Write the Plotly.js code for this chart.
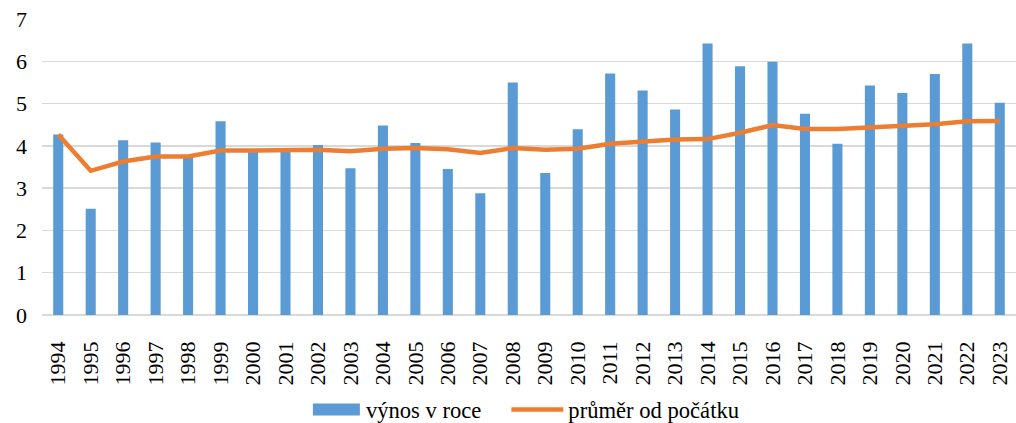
<!DOCTYPE html>
<html>
<head>
<meta charset="utf-8">
<script src="https://cdn.plot.ly/plotly-3.0.1.min.js"></script>
<style>html,body{margin:0;padding:0;background:#fff;}#chart{width:1016px;height:423px;}</style>
</head>
<body>
<div id="chart"></div>
<script>
const years = ["1994","1995","1996","1997","1998","1999","2000","2001","2002","2003","2004","2005","2006","2007","2008","2009","2010","2011","2012","2013","2014","2015","2016","2017","2018","2019","2020","2021","2022","2023"];
const vynosVRoce = [4.27,2.51,4.13,4.08,3.78,4.58,3.90,3.90,4.02,3.47,4.48,4.07,3.45,2.88,5.50,3.36,4.39,5.71,5.31,4.86,6.42,5.88,5.99,4.76,4.05,5.43,5.25,5.70,6.42,5.02];
const prumerOdPocatku = [4.27,3.41,3.63,3.75,3.75,3.89,3.89,3.89,3.91,3.87,3.93,3.95,3.92,3.83,3.95,3.91,3.93,4.05,4.11,4.15,4.16,4.31,4.49,4.40,4.40,4.43,4.46,4.51,4.58,4.59];
const seriesNames = ["výnos v roce", "průměr od počátku"];

const fontFamily = 'Liberation Serif, Times New Roman, serif';

const traces = [
  {type:'bar', x: years, y: vynosVRoce, name: seriesNames[0],
   marker:{color:'#5B9BD5'}, hoverinfo:'x+y'},
  {type:'scatter', mode:'lines', x: years, y: prumerOdPocatku, name: seriesNames[1],
   line:{color:'#ED7D31', width:4.5}, hoverinfo:'x+y'}
];

const layout = {
  width:1016, height:423,
  margin:{l:42, r:0, t:19, b:108, pad:0},
  paper_bgcolor:'#fff', plot_bgcolor:'#fff',
  font:{family:fontFamily, size:22, color:'#000'},
  bargap:0.69,
  showlegend:true,
  legend:{orientation:'h', x:0.485, xanchor:'center', yref:'container', y:0.031, yanchor:'middle',
          font:{family:fontFamily, size:22.6, color:'#000'}, itemwidth:72, traceorder:'normal'},
  xaxis:{type:'category', tickangle:-90, showgrid:false, zeroline:false, showline:false,
         automargin:false,
         ticks:'', ticklabelstandoff:21, tickfont:{family:fontFamily, size:22, color:'#000'}},
  yaxis:{range:[0,7], dtick:1, tick0:0, showgrid:true, gridcolor:'#d9d9d9', gridwidth:1.5,
         automargin:false,
         zeroline:true, zerolinecolor:'#d9d9d9', zerolinewidth:1.5, showline:false,
         ticks:'', ticklabelstandoff:14, tickfont:{family:fontFamily, size:22, color:'#000'}}
};

Plotly.newPlot('chart', traces, layout, {displayModeBar:false, staticPlot:true}).then(function(gd){
  // restyle legend swatches: flat wide rectangle for bars, longer line for the average
  const items = gd.querySelectorAll('.legend .traces');
  items.forEach(function(item){
    const text = item.querySelector('text.legendtext');
    if (!text || !item.__data__) return;
    const tr = item.__data__[0] && item.__data__[0].trace;
    if (!tr) return;
    const tb = text.getBoundingClientRect();
    if (tr.type === 'bar') {
      const barPath = item.querySelector('.legendpoints path');
      if (!barPath) return;
      const pb = barPath.getBoundingClientRect();
      const cx = pb.left + pb.width/2;
      const x1 = tb.left - 6 - cx, x0 = x1 - 47;
      barPath.setAttribute('d', 'M'+x0+',-6H'+x1+'V6H'+x0+'Z');
    } else {
      const linePath = item.querySelector('.legendlines path');
      if (!linePath) return;
      const lb = linePath.getBoundingClientRect();
      const bb = linePath.getBBox();
      const off = lb.left - bb.x;
      const x1 = tb.left - 5 - off, x0 = x1 - 52;
      linePath.setAttribute('d', 'M'+x0+',0H'+x1);
    }
  });
});
</script>
</body>
</html>
